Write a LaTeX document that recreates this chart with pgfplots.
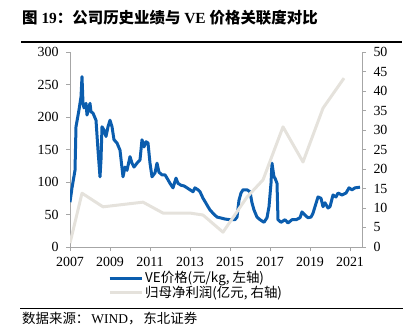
\documentclass[border=0pt]{standalone}
\usepackage{fontspec}
\setmainfont{Liberation Serif}
\newfontfamily\cjk{Noto Sans CJK SC}
\usepackage{pgfplots}
\pgfplotsset{compat=1.18}
\definecolor{veblue}{HTML}{0B5DAE}
\definecolor{profgray}{HTML}{E5E2DC}
\definecolor{axgray}{HTML}{A6A6A6}
\begin{document}
\begin{tikzpicture}[x=1bp,y=1bp]
\path (0,0) rectangle (407,336);
\node[anchor=base west, inner sep=0] at (22,313) {\fontsize{15.5}{16}\selectfont{\cjk\bfseries 图} \textbf{19}{\cjk\bfseries ：公司历史业绩与} \textbf{VE} {\cjk\bfseries 价格关联度对比}};
\draw[line width=1.2bp] (21,294) -- (402,294);
\draw[line width=0.8bp] (20,28) -- (403,28);
\node[anchor=base west, inner sep=0] at (22,13) {\fontsize{13.5}{14}\selectfont{\cjk 数据来源：}\hspace{2bp}WIND{\cjk ，}\hspace{2bp}{\cjk 东北证券}};
\begin{axis}[
  at={(70bp,89bp)}, anchor=south west, scale only axis,
  width=292bp, height=195bp,
  xmin=2007, xmax=2021.6, ymin=0, ymax=300,
  xtick={2007,2009,2011,2013,2015,2017,2019,2021},
  xticklabels={2007,2009,2011,2013,2015,2017,2019,2021},
  ytick={0,50,100,150,200,250,300},
  axis x line*=bottom, axis y line*=left,
  axis line style={axgray, line width=0.8bp, -},
  tick style={axgray, line width=0.8bp},
  tick align=outside, major tick length=4bp,
  ticklabel style={font=\fontsize{14}{14}\selectfont, text=black},
  xticklabel style={yshift=-3bp},
  yticklabel style={xshift=-4bp},
  /pgf/number format/assume math mode=true,
  legend style={at={(0.13,-0.115)}, anchor=north west, draw=none, fill=none,
    font=\fontsize{13.5}{14}\selectfont\cjk, row sep=-2bp, inner sep=0pt},
  legend cell align=left,
  legend image code/.code={\draw[#1] (0bp,0bp) -- (32bp,0bp);},
]
\addplot[veblue, line width=3bp, line join=round] coordinates {
(2007.00,69) (2007.10,91) (2007.25,118) (2007.30,185) (2007.45,211) (2007.55,231) (2007.60,262)
(2007.65,221) (2007.70,214) (2007.80,221) (2007.85,203) (2008.00,221) (2008.05,208) (2008.15,206)
(2008.30,195) (2008.40,149) (2008.50,108) (2008.55,134) (2008.60,185) (2008.70,180) (2008.80,170)
(2008.90,185) (2009.00,195) (2009.10,185) (2009.20,165) (2009.35,160) (2009.50,149) (2009.65,108)
(2009.75,123) (2009.85,118) (2010.00,139) (2010.10,129) (2010.20,123) (2010.35,129) (2010.50,134)
(2010.60,165) (2010.70,154) (2010.80,162) (2010.90,160) (2011.00,129) (2011.10,108) (2011.25,114)
(2011.35,129) (2011.45,115) (2011.60,111) (2011.75,111) (2011.85,106) (2012.00,98) (2012.15,91)
(2012.30,106) (2012.40,98) (2012.55,95) (2012.70,94) (2012.85,91) (2013.00,88) (2013.15,85)
(2013.25,91) (2013.40,88) (2013.50,85) (2013.65,75) (2013.75,70) (2013.90,62) (2014.00,57)
(2014.15,52) (2014.35,46) (2014.50,45) (2014.75,43) (2015.00,42) (2015.25,42) (2015.35,46)
(2015.45,72) (2015.55,83) (2015.65,88) (2015.85,88) (2016.00,85) (2016.10,68) (2016.20,57)
(2016.35,46) (2016.50,42) (2016.70,38) (2016.85,45) (2016.95,62) (2017.05,98) (2017.10,129)
(2017.15,118) (2017.20,108) (2017.25,106) (2017.35,98) (2017.40,42) (2017.55,38) (2017.75,42)
(2017.90,37) (2018.10,42) (2018.30,42) (2018.50,45) (2018.60,54) (2018.75,49) (2018.90,45)
(2019.05,46) (2019.15,52) (2019.25,62) (2019.40,77) (2019.55,75) (2019.65,62) (2019.75,68)
(2019.90,60) (2020.00,62) (2020.15,80) (2020.30,77) (2020.40,83) (2020.60,80) (2020.80,83)
(2020.95,91) (2021.10,88) (2021.25,91) (2021.50,92)
};
\addlegendentry{VE价格(元/kg, 左轴)}
\addlegendimage{profgray, line width=3bp}
\addlegendentry{归母净利润(亿元, 右轴)}
\end{axis}
\begin{axis}[
  at={(70bp,89bp)}, anchor=south west, scale only axis,
  width=292bp, height=195bp,
  xmin=2007, xmax=2021.6, ymin=0, ymax=50,
  ytick={0,5,...,50},
  axis x line=none, axis y line*=right,
  axis line style={axgray, line width=0.8bp, -},
  tick style={axgray, line width=0.8bp},
  tick align=outside, major tick length=4bp,
  ticklabel style={font=\fontsize{14}{14}\selectfont, text=black},
  yticklabel style={xshift=4bp},
  /pgf/number format/assume math mode=true,
]
\addplot[profgray, line width=3bp, line join=round] coordinates {
(2007.0,1.0) (2007.6,13.8) (2008.65,10.3) (2010.65,11.5) (2011.65,8.7) (2013.0,8.7) (2013.65,8.2)
(2014.65,3.8) (2015.85,12.8) (2016.65,17.2) (2017.65,30.8) (2018.65,21.8) (2019.65,35.6) (2020.7,43.3)
};
\end{axis}
\end{tikzpicture}
\end{document}
